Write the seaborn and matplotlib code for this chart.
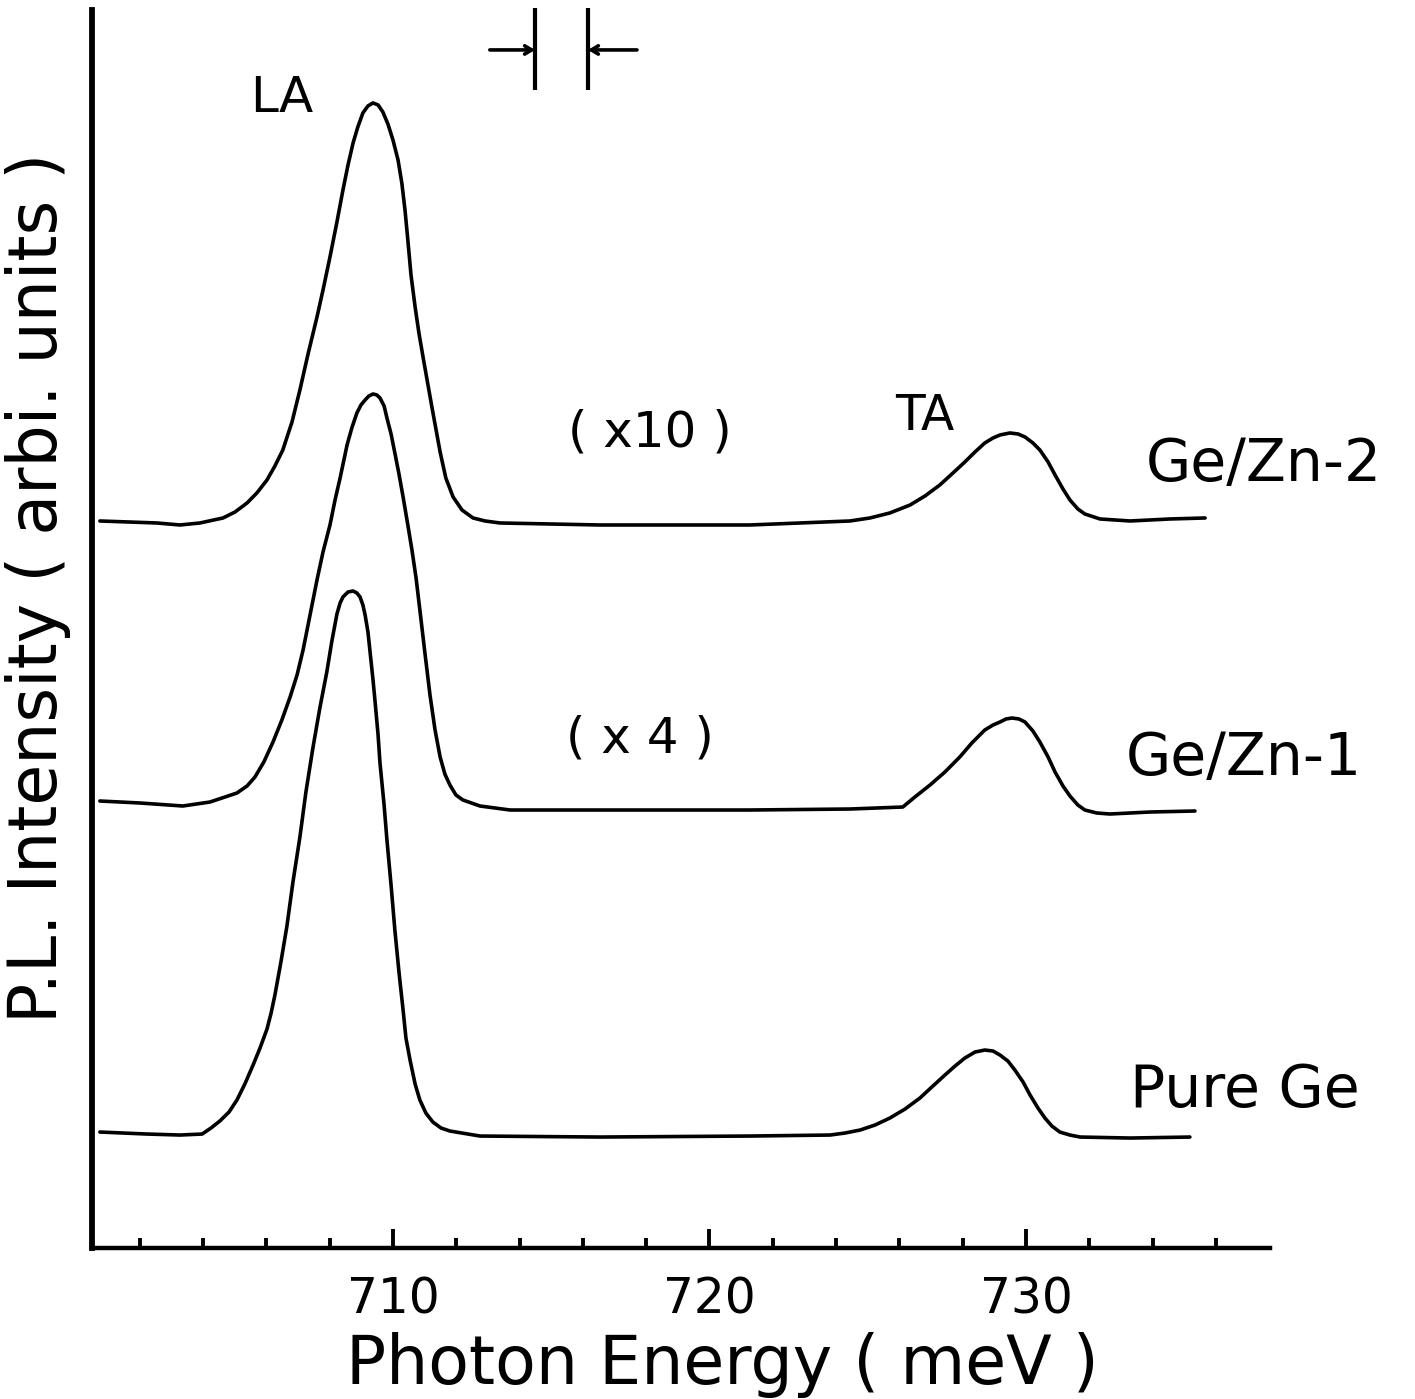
import matplotlib
matplotlib.use("Agg")
import matplotlib.pyplot as plt
import seaborn as sns
import pandas as pd

# ---------------- data ----------------
# Photon energy (meV) and P.L. intensity (arbitrary units, curves stacked)
gezn2_energy = [700.74, 702.54, 703.27, 703.90, 704.63, 705.01, 705.39, 705.70, 706.02,
                706.27, 706.52, 706.81, 707.06, 707.31, 707.60, 707.79, 708.01, 708.23,
                708.42, 708.58, 708.74, 708.89, 709.05, 709.21, 709.37, 709.53, 709.68,
                709.84, 710.00, 710.16, 710.28, 710.38, 710.47, 710.57, 710.70, 710.82,
                710.95, 711.23, 711.49, 711.67, 711.90, 712.18, 712.53, 712.91, 713.38,
                716.54, 721.28, 724.44, 725.07, 725.70, 726.34, 726.81, 727.28, 727.66,
                728.07, 728.39, 728.70, 728.96, 729.18, 729.49, 729.75, 729.97, 730.22,
                730.44, 730.70, 730.92, 731.17, 731.39, 731.64, 731.86, 732.34, 733.29,
                734.55, 735.66]
gezn2_intensity = [72.7, 72.5, 72.3, 72.5, 73.0, 73.6, 74.5, 75.5, 76.8,
                   78.2, 79.8, 82.6, 85.8, 89.3, 93.1, 95.8, 99.1, 102.6,
                   105.8, 108.3, 110.5, 112.1, 113.5, 114.2, 114.5, 114.3, 113.6,
                   112.4, 110.8, 108.8, 106.5, 103.8, 100.8, 97.3, 94.1, 91.5,
                   89.1, 84.1, 79.6, 77.0, 75.1, 73.8, 73.0, 72.7, 72.5,
                   72.3, 72.3, 72.7, 73.0, 73.5, 74.3, 75.2, 76.3, 77.4,
                   78.6, 79.6, 80.5, 81.0, 81.3, 81.5, 81.4, 81.1, 80.5,
                   79.8, 78.6, 77.3, 75.9, 74.8, 73.9, 73.4, 72.9, 72.7,
                   72.9, 73.0]

gezn1_energy = [700.74, 702.01, 703.36, 704.22, 705.07, 705.39, 705.64, 705.92, 706.21,
                706.49, 706.75, 706.97, 707.16, 707.38, 707.60, 707.79, 708.01, 708.17,
                708.33, 708.45, 708.55, 708.70, 708.86, 708.99, 709.12, 709.24, 709.37,
                709.49, 709.59, 709.72, 709.81, 709.94, 710.06, 710.19, 710.32, 710.47,
                710.60, 710.73, 710.85, 711.01, 711.17, 711.33, 711.49, 711.64, 711.80,
                711.99, 712.21, 712.75, 713.70, 716.54, 721.28, 724.44, 726.11, 726.49,
                726.97, 727.44, 727.91, 728.29, 728.70, 728.96, 729.18, 729.37, 729.56,
                729.78, 729.97, 730.22, 730.44, 730.70, 730.92, 731.17, 731.39, 731.64,
                731.86, 732.24, 732.65, 733.92, 735.34]
gezn1_intensity = [44.7, 44.5, 44.2, 44.6, 45.5, 46.2, 47.1, 48.6, 50.6,
                   52.8, 55.1, 57.3, 59.8, 63.3, 66.8, 69.6, 72.3, 74.8,
                   77.0, 78.8, 80.3, 82.0, 83.5, 84.3, 84.8, 85.2, 85.4,
                   85.3, 85.0, 84.2, 83.0, 81.4, 79.5, 77.4, 75.1, 72.3,
                   69.8, 67.0, 63.8, 59.5, 55.3, 51.8, 49.1, 47.4, 46.3,
                   45.3, 44.8, 44.2, 43.8, 43.8, 43.8, 43.9, 44.1, 45.1,
                   46.3, 47.6, 49.1, 50.5, 51.8, 52.3, 52.6, 52.9, 53.0,
                   52.9, 52.6, 51.7, 50.6, 49.1, 47.6, 46.2, 45.2, 44.3,
                   43.8, 43.5, 43.4, 43.6, 43.7]

puge_energy = [700.74, 702.23, 703.27, 703.97, 704.25, 704.53, 704.82, 705.07, 705.32,
               705.58, 705.80, 706.02, 706.15, 706.27, 706.46, 706.65, 706.84, 707.06,
               707.25, 707.47, 707.69, 707.91, 708.07, 708.23, 708.33, 708.42, 708.58,
               708.74, 708.86, 708.96, 709.05, 709.12, 709.21, 709.27, 709.37, 709.43,
               709.53, 709.59, 709.72, 709.81, 709.94, 710.06, 710.19, 710.32, 710.41,
               710.54, 710.70, 710.85, 711.04, 711.26, 711.52, 711.80, 712.75, 716.54,
               721.28, 723.81, 724.28, 724.76, 725.23, 725.70, 726.18, 726.65, 727.06,
               727.44, 727.76, 728.07, 728.39, 728.70, 728.96, 729.18, 729.43, 729.65,
               729.91, 730.13, 730.38, 730.60, 730.82, 731.07, 731.39, 731.71, 733.29,
               735.18]
puge_intensity = [11.6, 11.4, 11.3, 11.4, 12.0, 12.7, 13.6, 14.8, 16.4,
                  18.3, 20.0, 21.9, 23.5, 25.3, 28.6, 32.2, 36.6, 41.1,
                  45.6, 50.0, 54.0, 57.6, 60.7, 63.4, 64.5, 65.1, 65.6,
                  65.7, 65.5, 65.1, 64.3, 63.3, 61.6, 59.8, 56.8, 54.8,
                  51.3, 48.5, 44.3, 40.8, 36.3, 31.8, 27.6, 23.8, 21.0,
                  18.8, 16.4, 14.8, 13.5, 12.6, 12.0, 11.7, 11.2, 11.1,
                  11.2, 11.3, 11.5, 11.8, 12.3, 13.0, 13.9, 15.0, 16.2,
                  17.3, 18.2, 19.0, 19.6, 19.8, 19.7, 19.3, 18.7, 17.8,
                  16.6, 15.3, 14.0, 13.0, 12.2, 11.6, 11.3, 11.1, 11.0,
                  11.1]

series_names = ["Ge/Zn-2", "Ge/Zn-1", "Pure Ge"]
major_ticks = [710, 720, 730]
major_tick_labels = ["710", "720", "730"]
minor_ticks = [702, 704, 706, 708, 712, 714, 716, 718, 722, 724, 726, 728, 732, 734, 736]

# spectral-resolution indicator (meV)
resolution_bars = [714.49, 716.16]
resolution_arrow_tails = [713.06, 717.71]

# ---------------- figure ----------------
sns.set_style("ticks")
plt.rcParams["font.family"] = ["DejaVu Sans"]
plt.rcParams.update({"text.color": "black", "axes.labelcolor": "black",
                     "xtick.color": "black", "ytick.color": "black",
                     "axes.edgecolor": "black"})

fig = plt.figure(figsize=(14.15, 13.99), dpi=100)
ax = fig.add_axes([0.065, 0.1079, 0.8325, 0.885])

line_kw = dict(color="black", linewidth=2.6, estimator=None, sort=False,
               solid_joinstyle="round", solid_capstyle="round")
for name, e, i in zip(series_names,
                      [gezn2_energy, gezn1_energy, puge_energy],
                      [gezn2_intensity, gezn1_intensity, puge_intensity]):
    df = pd.DataFrame({"energy": e, "intensity": i})
    sns.lineplot(data=df, x="energy", y="intensity", ax=ax, **line_kw)

ax.set_xlim(700.49, 737.71)
ax.set_ylim(0, 123.8)

# spines
sns.despine(ax=ax, top=True, right=True)
ax.spines["left"].set_linewidth(4.2)
ax.spines["bottom"].set_linewidth(3.2)
ax.spines["left"].set_capstyle("projecting")

# ticks
ax.set_yticks([])
ax.set_xticks(major_ticks)
ax.set_xticklabels(major_tick_labels)
ax.set_xticks(minor_ticks, minor=True)
ax.tick_params(axis="x", which="major", direction="in", length=14, width=2.8,
               labelsize=35, pad=20, colors="black")
ax.tick_params(axis="x", which="minor", direction="in", length=7.5, width=2.8,
               colors="black")

# axis labels
ax.set_xlabel("Photon Energy ( meV )", fontsize=48, va="center", color="black")
ax.xaxis.set_label_coords(0.535, -0.0945)
ax.set_ylabel("P.L. Intensity ( arbi. units )", fontsize=48, va="center", color="black")
ax.yaxis.set_label_coords(-0.046, 0.533)

# annotations
txt = dict(color="black", ha="center", va="center", clip_on=False)
ax.text(706.49, 115.0, "LA", fontsize=36, **txt)
ax.text(726.81, 83.2, "TA", fontsize=35, **txt)
ax.text(718.12, 81.5, "( x10 )", fontsize=36, **txt)
ax.text(717.80, 51.0, "( x 4 )", fontsize=36, **txt)
ax.text(737.52, 78.3, series_names[0], fontsize=42, **txt)
ax.text(736.89, 49.0, series_names[1], fontsize=42, **txt)
ax.text(736.92, 15.8, series_names[2], fontsize=42, **txt)

# resolution marker
ax.vlines(resolution_bars, 115.8, 124.0, colors="black", linewidth=3.0, clip_on=False)
arrow_kw = dict(arrowstyle="->,head_length=0.5,head_width=0.3", color="black", lw=2.6)
ax.annotate("", xy=(resolution_bars[0], 119.8), xytext=(resolution_arrow_tails[0], 119.8),
            arrowprops=dict(shrinkA=0, shrinkB=0, **arrow_kw), annotation_clip=False)
ax.annotate("", xy=(resolution_bars[1], 119.8), xytext=(resolution_arrow_tails[1], 119.8),
            arrowprops=dict(shrinkA=0, shrinkB=0, **arrow_kw), annotation_clip=False)

fig.savefig("out.png", dpi=100, facecolor="white")
